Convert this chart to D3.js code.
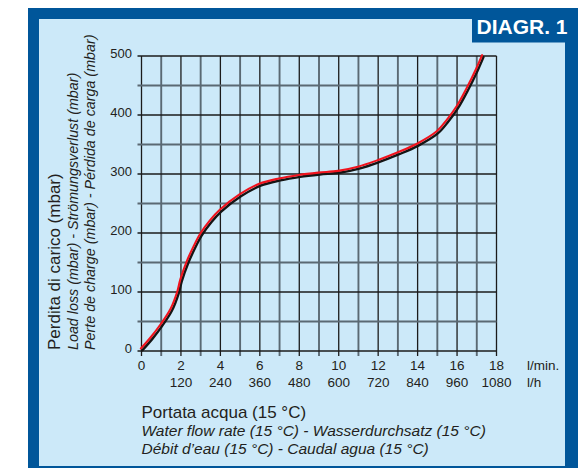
<!DOCTYPE html>
<html>
<head>
<meta charset="utf-8">
<script src="https://cdn.jsdelivr.net/npm/d3@7"></script>
<style>
  html, body { margin: 0; padding: 0; background: #ffffff; }
  svg { display: block; }
  text { font-family: "Liberation Sans", Arial, Helvetica, sans-serif; fill: #231f20; }
</style>
</head>
<body>
<svg id="chart" width="580" height="468"></svg>
<script>
// ---- data ----
const flowLmin = [0, 0.5, 1, 1.5, 1.85, 2, 2.33, 2.67, 3, 3.5, 4, 5, 6, 7, 8, 9, 10, 11, 12, 13, 14, 15, 15.5, 16, 16.5, 17, 17.3];
const lossMbar = [3, 22, 44, 70, 100, 120, 151, 176, 197, 220, 238, 264, 282, 291, 297, 301, 304, 311, 322, 335, 350, 371, 390, 413, 443, 477, 500];

const xTicks = [0, 2, 4, 6, 8, 10, 12, 14, 16, 18];
const xTicksLh = ["", "120", "240", "360", "480", "600", "720", "840", "960", "1080"];
const yTicks = [0, 100, 200, 300, 400, 500];
const xGrid = d3.range(0, 19, 1);
const yGrid = d3.range(0, 501, 50);

const yTitles = ["Perdita di carico (mbar)",
                 "Load loss (mbar) - Strömungsverlust (mbar)",
                 "Perte de charge (mbar) - Pérdida de carga (mbar)"];
const xTitles = ["Portata acqua (15 °C)",
                 "Water flow rate (15 °C) - Wasserdurchsatz (15 °C)",
                 "Débit d’eau (15 °C) - Caudal agua (15 °C)"];
const badge = "DIAGR. 1";

// ---- layout ----
const BLUE = "#00569a";
const PANEL = "#cce9f9";
const svg = d3.select("#chart");

svg.append("rect").attr("x", 28).attr("y", 8).attr("width", 550).attr("height", 460).attr("fill", BLUE);
svg.append("rect").attr("x", 39).attr("y", 19).attr("width", 526).attr("height", 447).attr("fill", PANEL);

// badge
svg.append("rect").attr("x", 472).attr("y", 19).attr("width", 95).attr("height", 23.5).attr("fill", BLUE);
svg.append("text").attr("x", 476.5).attr("y", 34).text(badge)
  .style("fill", "#ffffff").attr("font-weight", "bold").attr("font-size", 21);

const x = d3.scaleLinear().domain([0, 18]).range([141.5, 496.5]);
const y = d3.scaleLinear().domain([0, 500]).range([351, 56]);

const grid = svg.append("g");
grid.selectAll("line.v").data(xGrid).join("line")
  .attr("x1", d => x(d)).attr("x2", d => x(d))
  .attr("y1", y(0) + 5).attr("y2", y(500))
  .attr("stroke", d => d % 2 === 0 ? "#1b1b1b" : "#5a6973")
  .attr("stroke-width", d => d % 2 === 0 ? 1.3 : 1.9);
grid.selectAll("line.h").data(yGrid).join("line")
  .attr("x1", x(0) - 4).attr("x2", x(18))
  .attr("y1", d => y(d)).attr("y2", d => y(d))
  .attr("stroke", d => d % 100 === 0 ? "#1b1b1b" : "#5a6973")
  .attr("stroke-width", d => d % 100 === 0 ? 1.3 : 1.9);

// y tick labels
svg.append("g").selectAll("text").data(yTicks).join("text")
  .attr("x", 132).attr("y", d => y(d) - 3).attr("dy", "0.35em")
  .attr("text-anchor", "end").attr("font-size", 13).text(d => d);

// x tick labels: l/min row and l/h row
svg.append("g").selectAll("text").data(xTicks).join("text")
  .attr("x", d => x(d)).attr("y", 369.5)
  .attr("text-anchor", "middle").attr("font-size", 13.5).text(d => d);
svg.append("g").selectAll("text").data(xTicks).join("text")
  .attr("x", d => x(d)).attr("y", 387)
  .attr("text-anchor", "middle").attr("font-size", 13.5).text((d, i) => xTicksLh[i]);
svg.append("text").attr("x", 527).attr("y", 369.5).attr("font-size", 13.5).text("l/min.");
svg.append("text").attr("x", 527).attr("y", 387).attr("font-size", 13.5).text("l/h");

// curve: dark line with red line on top, slightly offset up-left
const line = d3.line().x((d, i) => x(flowLmin[i])).y(d => y(d)).curve(d3.curveCatmullRom.alpha(0.5));
svg.append("path").attr("d", line(lossMbar)).attr("fill", "none")
  .attr("stroke", "#151515").attr("stroke-width", 2.4).attr("stroke-linecap", "round")
  .attr("transform", "translate(0.8,1.1)");
svg.append("path").attr("d", line(lossMbar)).attr("fill", "none")
  .attr("stroke", "#f0141e").attr("stroke-width", 2.1).attr("stroke-linecap", "round")
  .attr("transform", "translate(-0.6,-0.8)");

// y titles (rotated)
const yBase = [59.5, 78, 94.5];
svg.append("g").selectAll("text").data(yTitles).join("text")
  .attr("transform", (d, i) => `translate(${yBase[i]},350) rotate(-90)`)
  .attr("font-size", (d, i) => i === 0 ? 17 : 14.3)
  .attr("font-style", (d, i) => i === 0 ? "normal" : "italic")
  .text(d => d);

// x titles
const xBase = [417.5, 436, 454];
svg.append("g").selectAll("text").data(xTitles).join("text")
  .attr("x", 141.5).attr("y", (d, i) => xBase[i])
  .attr("font-size", (d, i) => i === 0 ? 17 : 15.5)
  .attr("font-style", (d, i) => i === 0 ? "normal" : "italic")
  .text(d => d);
</script>
</body>
</html>
